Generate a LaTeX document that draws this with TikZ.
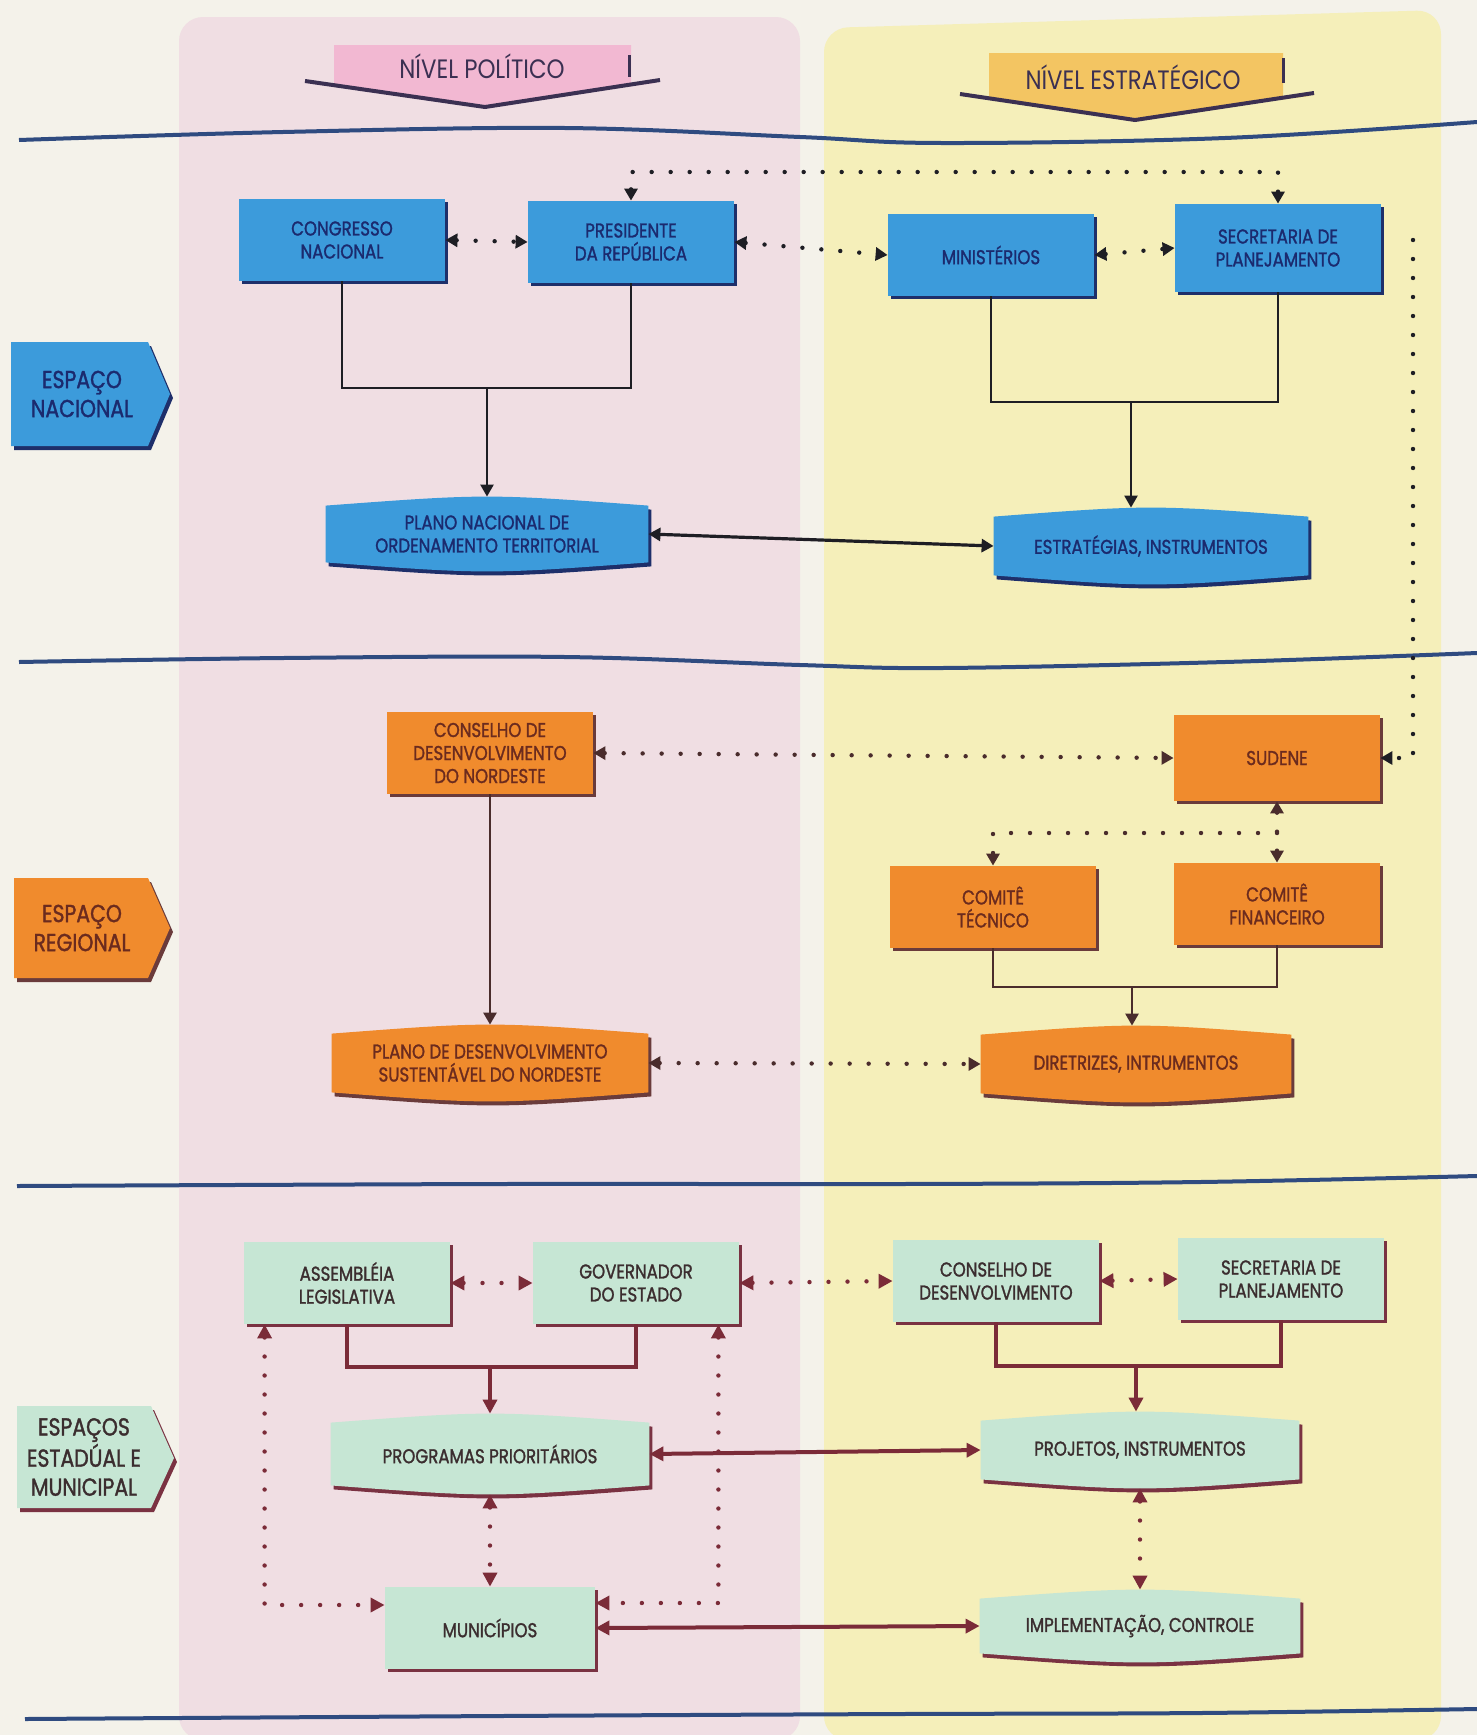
\documentclass[tikz,border=0pt]{standalone}
\usepackage{fontspec}
\setmainfont{Poppins}[FakeStretch=0.83, FakeBold=1.4]
\newfontfamily\lvlfont{Poppins}[FakeStretch=0.86]
\usetikzlibrary{arrows.meta,shadows,calc}
\pgfdeclarelayer{bg}
\pgfdeclarelayer{shp}
\pgfsetlayers{bg,shp,main}
\definecolor{pagec}{HTML}{F4F2EA}
\definecolor{pinkc}{HTML}{F0DEE3}
\definecolor{yelc}{HTML}{F5EFBA}
\definecolor{bluef}{HTML}{3C9BDB}
\definecolor{bluet}{HTML}{1B2A6E}
\definecolor{blues}{HTML}{1E2F6A}
\definecolor{orf}{HTML}{F08B2D}
\definecolor{ort}{HTML}{6B2B1E}
\definecolor{ors}{HTML}{6A3B3B}
\definecolor{grf}{HTML}{C6E6D4}
\definecolor{grt}{HTML}{3B2D2F}
\definecolor{grs}{HTML}{7A3242}
\definecolor{hlc}{HTML}{2F4B80}
\definecolor{pinkar}{HTML}{F2B8D2}
\definecolor{yelar}{HTML}{F3C562}
\definecolor{lvl}{HTML}{3B3052}
\definecolor{conb}{HTML}{1E1E24}
\definecolor{cono}{HTML}{4A2C2C}
\definecolor{cong}{HTML}{7B2B38}
\newcommand\brlshape[3]{%
  \begin{pgfonlayer}{shp}
    \fill[#3] ($(#1.north west)+(3,13)$) .. controls ($(#1.north)+(3,1)$) .. ($(#1.north east)+(3,13)$) -- ($(#1.south east)+(3,-5)$) .. controls ($(#1.south)+(3,7)$) .. ($(#1.south west)+(3,-5)$) -- cycle;
    \fill[#2] ($(#1.north west)+(0,9)$) .. controls ($(#1.north)+(0,-3)$) .. ($(#1.north east)+(0,9)$) -- ($(#1.south east)+(0,-9)$) .. controls ($(#1.south)+(0,3)$) .. ($(#1.south west)+(0,-9)$) -- cycle;
  \end{pgfonlayer}}
\tikzset{
  tipB/.tip={Triangle[length=6pt,width=6.5pt]},
  tipG/.tip={Triangle[length=7pt,width=7pt]},
  lbl/.style={font=\fontsize{10}{11.5}\selectfont, align=center, inner sep=0pt},
  rbox/.style={lbl, rectangle, minimum width=103pt, minimum height=41pt},
  bbox/.style={rbox, fill=bluef, text=bluet, drop shadow={shadow xshift=1.6pt, shadow yshift=-1.6pt, fill=blues, opacity=1}},
  obox/.style={rbox, fill=orf, text=ort, drop shadow={shadow xshift=1.6pt, shadow yshift=-1.6pt, fill=ors, opacity=1}},
  gbox/.style={rbox, fill=grf, text=grt, drop shadow={shadow xshift=1.6pt, shadow yshift=-1.6pt, fill=grs, opacity=1}},
  brl/.style={lbl, rectangle},
  labL/.style={font=\fontsize{12.3}{14.5}\selectfont, align=center, inner sep=0pt},
  lvlt/.style={font=\lvlfont\fontsize{13.3}{15}\selectfont, text=lvl, inner sep=0pt},
  dotl/.style={line width=2.2pt, dash pattern=on 0pt off 9.5pt, line cap=round},
  bline/.style={draw=conb, line width=1.2pt},
  bdot/.style={dotl, draw=conb},
  oline/.style={draw=cono, line width=1.3pt},
  odot/.style={dotl, draw=cono},
  gline/.style={draw=cong, line width=2pt},
  gdot/.style={dotl, draw=cong},
  hl/.style={draw=hlc, line width=2pt}
}
\begin{document}
\begin{tikzpicture}[x=0.5pt,y=-0.5pt]
\useasboundingbox (0,0) rectangle (1477,1735);
\begin{pgfonlayer}{bg}
  \fill[pagec] (0,0) rectangle (1477,1735);
  \fill[pinkc, rounded corners=12] (179,1740) -- (179,17) -- (800,17) -- (800,1740) -- cycle;
  \fill[yelc, rounded corners=12] (824,1740) -- (824,28) -- (1441,10) -- (1441,1740) -- cycle;
\end{pgfonlayer}

% level arrows
\fill[pinkar] (334,45) -- (631,45) -- (631,83) -- (655,83) -- (485,105) -- (311,83) -- (334,83) -- cycle;
\draw[lvl, line width=2pt] (305,81) -- (485,107) -- (660,80);
\draw[lvl, line width=1.5pt] (629,55) -- (629,77);
\node[lvlt] (npol) at (482,66) {NÍVEL POLÍTICO};
\fill[yelar] (989,53) -- (1283,53) -- (1283,96) -- (1309,96) -- (1135,118) -- (966,96) -- (989,96) -- cycle;
\draw[lvl, line width=2pt] (960,94) -- (1135,120) -- (1314,93);
\draw[lvl, line width=1.5pt] (1283,58) -- (1283,83);
\node[lvlt] (nest) at (1133,77) {NÍVEL ESTRATÉGICO};

% separator lines
\draw[hl] plot[smooth, tension=0.6] coordinates {(19,140) (283,132) (565,128) (800,137) (942,143) (1225,138) (1477,122)};
\draw[hl] plot[smooth, tension=0.6] coordinates {(19,662) (283,658) (565,657) (800,665) (942,668) (1225,662) (1477,653)};
\draw[hl] plot[smooth, tension=0.6] coordinates {(17,1186) (500,1184) (900,1184) (1200,1182) (1477,1176)};
\draw[hl] plot[smooth, tension=0.6] coordinates {(25,1719) (500,1716) (900,1714) (1200,1713) (1477,1709)};

% left labels
\fill[blues] (14,346) -- (151,346) -- (173,398) -- (151,450) -- (14,450) -- cycle;
\fill[bluef] (11,342) -- (148,342) -- (170,394) -- (148,446) -- (11,446) -- cycle;
\node[labL, text=bluet] (lnac) at (82,394) {ESPAÇO\\NACIONAL};
\fill[ors] (17,882) -- (151,882) -- (173,932) -- (151,982) -- (17,982) -- cycle;
\fill[orf] (14,878) -- (148,878) -- (170,928) -- (148,978) -- (14,978) -- cycle;
\node[labL, text=ort] (lreg) at (82,928) {ESPAÇO\\REGIONAL};
\fill[grs] (20,1410) -- (154,1410) -- (177,1462) -- (154,1512) -- (20,1512) -- cycle;
\fill[grf] (17,1406) -- (151,1406) -- (174,1458) -- (151,1508) -- (17,1508) -- cycle;
\node[labL, text=grt] (lest) at (84,1457) {ESPAÇOS\\ESTADÚAL E\\MUNICIPAL};

% blue nodes
\node[bbox] (cong) at (342,240) {CONGRESSO\\NACIONAL};
\node[bbox] (pres) at (631,242) {PRESIDENTE\\DA REPÚBLICA};
\node[bbox] (mini) at (991,255) {MINISTÉRIOS};
\node[bbox, minimum height=44pt] (sec1) at (1278,248) {SECRETARIA DE\\PLANEJAMENTO};
\node[brl, minimum width=161pt, minimum height=37pt, text=bluet] (pnot) at (487,534) {PLANO NACIONAL DE\\ORDENAMENTO TERRITORIAL};
\brlshape{pnot}{bluef}{blues}
\node[brl, minimum width=157pt, minimum height=38pt, text=bluet] (estr) at (1151,546) {ESTRATÉGIAS, INSTRUMENTOS};
\brlshape{estr}{bluef}{blues}

% orange nodes
\node[obox] (cnord) at (490,753) {CONSELHO DE\\DESENVOLVIMENTO\\DO NORDESTE};
\node[obox, minimum height=43pt] (sud) at (1277,758) {SUDENE};
\node[obox] (ctec) at (993,907) {COMITÊ\\TÉCNICO};
\node[obox] (cfin) at (1277,904) {COMITÊ\\FINANCEIRO};
\node[brl, minimum width=158pt, minimum height=38pt, text=ort] (pdes) at (490,1063) {PLANO DE DESENVOLVIMENTO\\SUSTENTÁVEL DO NORDESTE};
\brlshape{pdes}{orf}{ors}
\node[brl, minimum width=155pt, minimum height=38pt, text=ort] (dir) at (1136,1064) {DIRETRIZES, INTRUMENTOS};
\brlshape{dir}{orf}{ors}

% green nodes
\node[gbox] (asm) at (347,1283) {ASSEMBLÉIA\\LEGISLATIVA};
\node[gbox] (gov) at (636,1283) {GOVERNADOR\\DO ESTADO};
\node[gbox] (cdes) at (996,1281) {CONSELHO DE\\DESENVOLVIMENTO};
\node[gbox] (sec3) at (1281,1279) {SECRETARIA DE\\PLANEJAMENTO};
\node[brl, minimum width=159pt, minimum height=40pt, text=grt] (prog) at (490,1454) {PROGRAMAS PRIORITÁRIOS};
\brlshape{prog}{grf}{grs}
\node[brl, minimum width=159pt, minimum height=38pt, text=grt] (proj) at (1140,1450) {PROJETOS, INSTRUMENTOS};
\brlshape{proj}{grf}{grs}
\node[gbox, minimum width=105pt] (mun) at (490,1628) {MUNICÍPIOS};
\node[brl, minimum width=160pt, minimum height=36pt, text=grt] (impl) at (1140,1626) {IMPLEMENTAÇÃO, CONTROLE};
\brlshape{impl}{grf}{grs}

% blue connectors
\draw[bdot, tipB-tipB] (cong.east) -- (pres.west);
\draw[bdot, tipB-tipB] (pres.east) -- (mini.west);
\draw[bdot, tipB-tipB] (mini.east) -- (sec1.west);
\coordinate (jt) at (950,172);
\draw[bdot, tipB-tipB] (pres.north) |- (jt) -| (sec1.north);
\coordinate (rs) at (1413,240);
\draw[bdot, -tipB] (rs) |- (sud.east);
\coordinate (j1) at (487,388);
\draw[bline] (cong.south) |- (j1) -| (pres.south);
\draw[bline, -tipB] (j1) -- (pnot.north);
\coordinate (j2) at (1131,402);
\draw[bline] (mini.south) |- (j2) -| (sec1.south);
\draw[bline, -tipB] (j2) -- (j2 |- estr.north);
\draw[bline, line width=1.6pt, tipB-tipB] (pnot.east) -- (estr.west);

% orange connectors
\draw[odot, tipB-tipB] (cnord.east) -- (sud.west);
\draw[oline, -tipB] (cnord.south) -- (pdes.north);
\draw[odot, tipB-tipB] (sud.south) -- (cfin.north);
\coordinate (jb) at (1277,833);
\draw[odot, -tipB] (jb) -| (ctec.north);
\coordinate (j3) at (1132,987);
\draw[oline] (ctec.south) |- (j3) -| (cfin.south);
\draw[oline, -tipB] (j3) -- (j3 |- dir.north);
\draw[odot, tipB-tipB] (pdes.east) -- (dir.west);

% green connectors
\draw[gdot, tipG-tipG] (asm.east) -- (gov.west);
\draw[gdot, tipG-tipG] (gov.east) -- (cdes.west);
\draw[gdot, tipG-tipG] (cdes.east) -- (sec3.west);
\coordinate (j4) at (490,1367);
\draw[gline] (asm.south) |- (j4) -| (gov.south);
\draw[gline, -tipG] (j4) -- (prog.north);
\coordinate (j5) at (1136,1366);
\draw[gline] (cdes.south) |- (j5) -| (sec3.south);
\draw[gline, -tipG] (j5) -- (j5 |- proj.north);
\draw[gline, tipG-tipG] (prog.east) -- (proj.west);
\draw[gline, tipG-tipG] (mun.east) -- (impl.west);
\draw[gdot, tipG-tipG] (prog.south) -- (mun.north);
\draw[gdot, tipG-tipG] (proj.south) -- (impl.north);
\draw[gdot, tipG-tipG] ($(asm.south west)+(21,0)$) |- ($(mun.west)+(0,-23)$);
\draw[gdot, tipG-tipG] ($(gov.south east)+(-21,0)$) |- ($(mun.east)+(0,-25)$);
\end{tikzpicture}
\end{document}
